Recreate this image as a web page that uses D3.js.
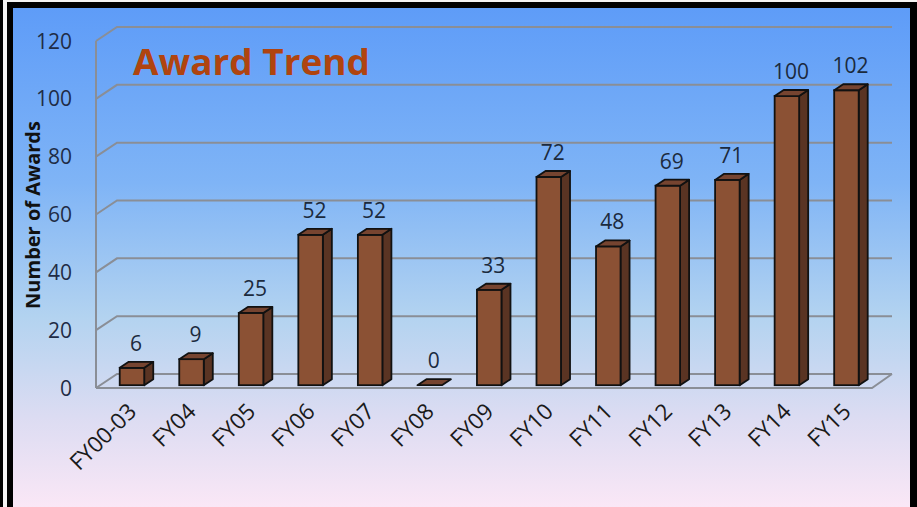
<!DOCTYPE html>
<html><head><meta charset="utf-8">
<script src="https://cdn.jsdelivr.net/npm/d3@7"></script>
<style>body{margin:0;background:#fff}svg{display:block}</style></head>
<body><script>
const categories = ["FY00-03","FY04","FY05","FY06","FY07","FY08","FY09","FY10","FY11","FY12","FY13","FY14","FY15"];
const awards = [6,9,25,52,52,0,33,72,48,69,71,100,102];
const yTicks = [0,20,40,60,80,100,120];
const chartTitle = "Award Trend";
const yAxisTitle = "Number of Awards";

const W = 917, H = 507;
const svg = d3.select("body").append("svg").attr("width", W).attr("height", H);
const defs = svg.append("defs");
const grad = defs.append("linearGradient").attr("id","bg").attr("x1",0).attr("y1",0).attr("x2",0).attr("y2",1);
[["0%","#5e9cf8"],["35%","#7fb4f6"],["62%","#b3d3f0"],["82%","#dcdcf2"],["100%","#fae7f6"]]
  .forEach(([o,c]) => grad.append("stop").attr("offset",o).attr("stop-color",c));

// frame
svg.append("rect").attr("width",W).attr("height",H).attr("fill","#f4f4f4");
svg.append("rect").attr("x",0).attr("y",0).attr("width",3).attr("height",H).attr("fill","#000");
svg.append("rect").attr("x",7).attr("y",2).attr("width",W-7).attr("height",H-2).attr("fill","#000");
svg.append("rect").attr("x",13).attr("y",8).attr("width",910-13).attr("height",H-8).attr("fill","url(#bg)");

const font = "'Open Sans', sans-serif";
const x = d3.scaleBand().domain(categories).range([98,872]);
const y = d3.scaleLinear().domain([0,120]).range([388,41]);
const DX = 21, DY = -14;      // full depth of the wall
const f0 = 0.2, bd = 0.43;    // bar placement / depth fraction
const bw = 24.5;
const grid = "#8a8e96";

const g = svg.append("g");
yTicks.forEach(v => {
  g.append("path")
    .attr("d", `M96,${y(v)} L${96+DX},${y(v)+DY} L${892},${y(v)+DY}`)
    .attr("fill","none").attr("stroke",grid).attr("stroke-width",2);
});
g.append("path").attr("d", `M96,${y(0)} L872,${y(0)} L${872+DX-1},${y(0)+DY}`)
  .attr("fill","none").attr("stroke",grid).attr("stroke-width",2);
g.append("line").attr("x1",96).attr("x2",96).attr("y1",y(120)).attr("y2",y(0))
  .attr("stroke",grid).attr("stroke-width",2);

g.selectAll("text.tick").data(yTicks).join("text")
  .attr("x",72).attr("y",d => y(d)).attr("dy","0.36em")
  .attr("text-anchor","end").attr("font-family",font).attr("font-size",21)
  .attr("fill","#1f2c45").text(d => d);

const bars = g.selectAll("g.bar").data(categories.map((c,i)=>({c,v:awards[i]}))).join("g");
bars.each(function(d){
  const sel = d3.select(this);
  const cx = x(d.c) + x.bandwidth()/2;
  const x0 = cx - bw/2 + f0*DX;
  const yb = y(0) + f0*DY;
  const yt = y(d.v) + f0*DY;
  const ddx = bd*DX, ddy = bd*DY;
  if (d.v > 0) {
    sel.append("path").attr("d",`M${x0+bw},${yt} L${x0+bw+ddx},${yt+ddy} L${x0+bw+ddx},${yb+ddy} L${x0+bw},${yb} Z`)
      .attr("fill","#5a3423").attr("stroke","#111").attr("stroke-width",1.8).attr("stroke-linejoin","round");
    sel.append("rect").attr("x",x0).attr("y",yt).attr("width",bw).attr("height",yb-yt)
      .attr("fill","#8b5134").attr("stroke","#111").attr("stroke-width",1.8);
  }
  sel.append("path").attr("d",`M${x0},${yt} L${x0+bw},${yt} L${x0+bw+ddx},${yt+ddy} L${x0+ddx},${yt+ddy} Z`)
    .attr("fill","#764430").attr("stroke","#111").attr("stroke-width",1.8).attr("stroke-linejoin","round");
  sel.append("text").attr("x",x0+bw/2+4).attr("y",yt+ddy-11)
    .attr("text-anchor","middle").attr("font-family",font).attr("font-size",21)
    .attr("fill","#1b2a3d").text(d.v);
});

g.selectAll("text.xl").data(categories).join("text")
  .attr("transform", d => `translate(${x(d)+x.bandwidth()/2+10},413) rotate(-45)`)
  .attr("text-anchor","end").attr("font-family",font).attr("font-size",22.5)
  .attr("fill","#1a1a1a").text(d => d);

svg.append("text").attr("x",133).attr("y",75).attr("font-family",font).attr("font-weight","bold")
  .attr("font-size",36).attr("fill","#b0440f").attr("textLength",237).attr("lengthAdjust","spacingAndGlyphs")
  .text(chartTitle);
svg.append("text").attr("transform","translate(40,215) rotate(-90)").attr("text-anchor","middle")
  .attr("font-family",font).attr("font-weight","bold").attr("font-size",20).attr("fill","#111")
  .text(yAxisTitle);
</script></body></html>
